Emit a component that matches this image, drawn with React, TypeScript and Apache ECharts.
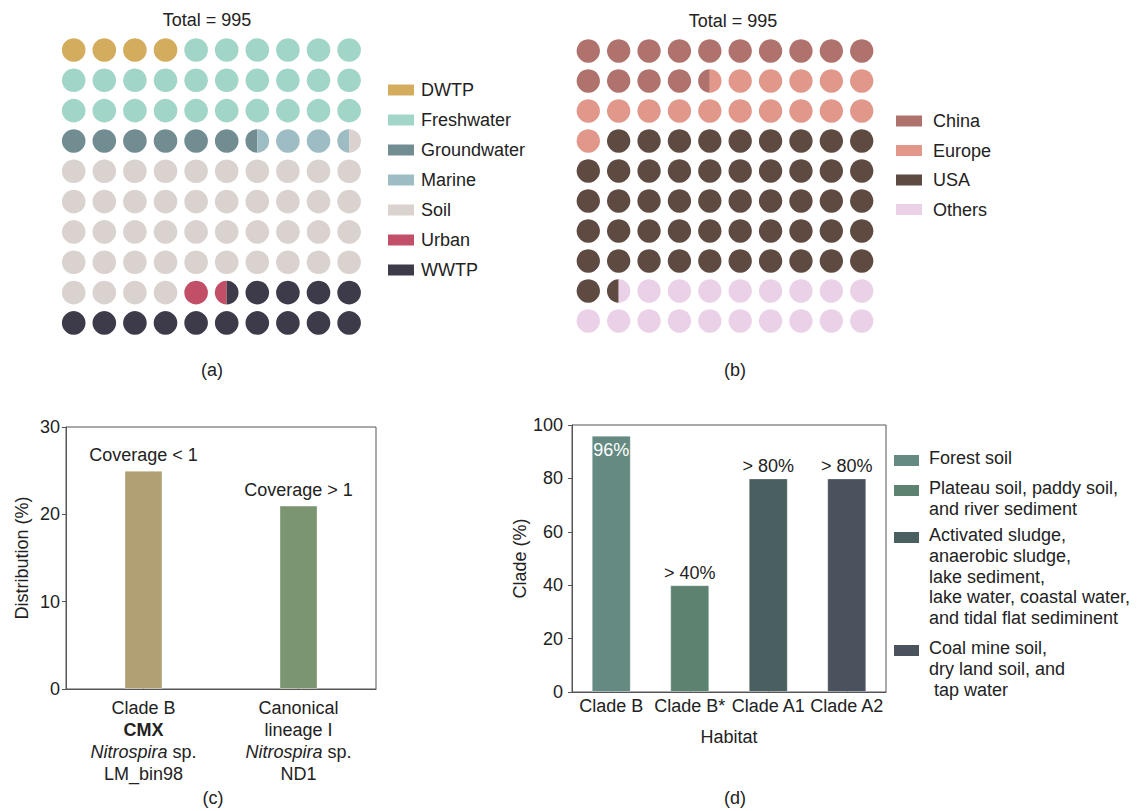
import React, { useEffect, useRef } from "react";
import * as echarts from "echarts";

// ---------- Data ----------
const waffleACategories = ["DWTP", "Freshwater", "Groundwater", "Marine", "Soil", "Urban", "WWTP"];
const waffleAValues = [4, 26, 6.5, 3, 44.5, 1.5, 14.5];
const waffleAColors = ["#D4AC5E", "#A1D5C8", "#728D92", "#9DBCC3", "#DAD2CE", "#C24F68", "#3D3B4A"];
const waffleATotal = "Total = 995";

const waffleBCategories = ["China", "Europe", "USA", "Others"];
const waffleBValues = [14.5, 16.5, 50.5, 18.5];
const waffleBColors = ["#B0726C", "#E1988A", "#5F4A42", "#EBD1E7"];
const waffleBTotal = "Total = 995";

const distCategories = ["Clade B CMX", "Canonical lineage I"];
const distAxisLabels = [
  "{n|Clade B}\n{b|CMX}\n{i|Nitrospira}{n| sp.}\n{n|LM_bin98}",
  "{n|Canonical}\n{n|lineage I}\n{i|Nitrospira}{n| sp.}\n{n|ND1}",
];
const distValues = [25, 21];
const distLabels = ["Coverage < 1", "Coverage > 1"];
const distColors = ["#B0A073", "#7B9570"];
const distTicks = { min: 0, max: 30, interval: 10 };

const cladeCategories = ["Clade B", "Clade B*", "Clade A1", "Clade A2"];
const cladeValues = [96, 40, 80, 80];
const cladeLabels = ["96%", "> 40%", "> 80%", "> 80%"];
const cladeColors = ["#648A82", "#5D8370", "#4A5F5F", "#4A535D"];
const cladeTicks = { min: 0, max: 100, interval: 20 };
const habitatLegend = [
  "Forest soil",
  "Plateau soil, paddy soil,\nand river sediment",
  "Activated sludge,\nanaerobic sludge,\nlake sediment,\nlake water, coastal water,\nand tidal flat sediminent",
  "Coal mine soil,\ndry land soil, and\n tap water",
];

const panelLabels = ["(a)", "(b)", "(c)", "(d)"];

// ---------- Helpers ----------
const FONT = "'Liberation Sans', Arial, Helvetica, sans-serif";
const TXT = "#222";
const AX = "#555";

function buildCells(values: number[]) {
  const cum: number[] = [];
  let s = 0;
  values.forEach((v) => {
    s += v;
    cum.push(s);
  });
  const catAt = (p: number) => {
    for (let k = 0; k < cum.length; k++) if (p < cum[k]) return k;
    return cum.length - 1;
  };
  const cells: number[][] = [];
  for (let i = 0; i < 100; i++) {
    cells.push([i % 10, Math.floor(i / 10), catAt(i + 0.25), catAt(i + 0.75)]);
  }
  return cells;
}

function waffleRender(colors: string[]) {
  return (params: any, api: any) => {
    const c = api.coord([api.value(0), api.value(1)]);
    const size = api.size([1, 1]);
    const r = Math.min(size[0], size[1]) * 0.39;
    const l = api.value(2);
    const rt = api.value(3);
    if (l === rt) {
      return { type: "circle", shape: { cx: c[0], cy: c[1], r }, style: { fill: colors[l] } };
    }
    return {
      type: "group",
      children: [
        {
          type: "sector",
          shape: { cx: c[0], cy: c[1], r0: 0, r, startAngle: Math.PI / 2, endAngle: Math.PI * 1.5, clockwise: true },
          style: { fill: colors[l] },
        },
        {
          type: "sector",
          shape: { cx: c[0], cy: c[1], r0: 0, r, startAngle: -Math.PI / 2, endAngle: Math.PI / 2, clockwise: true },
          style: { fill: colors[rt] },
        },
      ],
    };
  };
}

function txt(text: string, x: number, y: number, extra: any = {}) {
  return {
    type: "text",
    x,
    y,
    style: {
      text,
      fill: TXT,
      fontSize: 18,
      fontFamily: FONT,
      align: "center",
      verticalAlign: "middle",
      ...extra,
    },
  };
}

function simpleLegend(names: string[], colors: string[], sx: number, tx: number, y0: number, step: number) {
  const els: any[] = [];
  names.forEach((n, i) => {
    const cy = y0 + step * i;
    els.push({ type: "rect", shape: { x: sx, y: cy - 5.5, width: 26, height: 11 }, style: { fill: colors[i] } });
    els.push(txt(n, tx, cy, { align: "left" }));
  });
  return els;
}

function habitatLegendEls() {
  const tops = [448, 478, 525, 638];
  const els: any[] = [];
  habitatLegend.forEach((t, i) => {
    els.push({ type: "rect", shape: { x: 894, y: tops[i] + 7, width: 25, height: 11 }, style: { fill: cladeColors[i] } });
    els.push({
      type: "text",
      x: 929,
      y: tops[i],
      style: { text: t, fill: TXT, fontSize: 18, fontFamily: FONT, align: "left", verticalAlign: "top", lineHeight: 20.6 },
    });
  });
  return els;
}

const valueAxisCommon = (extra: any) => ({
  type: "value",
  splitLine: { show: false },
  axisLine: { show: true, lineStyle: { color: AX, width: 1 } },
  axisTick: { show: true, length: 4, lineStyle: { color: AX } },
  axisLabel: { fontSize: 18, color: TXT, fontFamily: FONT },
  nameLocation: "middle",
  nameRotate: 90,
  nameTextStyle: { fontSize: 18, color: TXT, fontFamily: FONT },
  ...extra,
});

const catAxisCommon = (extra: any) => ({
  type: "category",
  axisLine: { show: true, lineStyle: { color: AX, width: 1 } },
  axisTick: { show: true, inside: true, length: 7, alignWithLabel: true, lineStyle: { color: AX } },
  ...extra,
});

const richStyle = { fontSize: 18, lineHeight: 22, color: TXT, fontFamily: FONT };

const option: any = {
  animation: false,
  backgroundColor: "#fff",
  textStyle: { fontFamily: FONT },
  grid: [
    { left: 58.4, top: 34.8, width: 306, height: 303.3, outerBoundsMode: "none" },
    { left: 573.1, top: 36, width: 303.8, height: 300, outerBoundsMode: "none" },
    { left: 66, top: 427, width: 310, height: 262, show: true, borderColor: AX, borderWidth: 1, outerBoundsMode: "none" },
    { left: 572, top: 425, width: 314, height: 267, show: true, borderColor: AX, borderWidth: 1, outerBoundsMode: "none" },
  ],
  xAxis: [
    { gridIndex: 0, type: "value", min: -0.5, max: 9.5, show: false },
    { gridIndex: 1, type: "value", min: -0.5, max: 9.5, show: false },
    catAxisCommon({
      gridIndex: 2,
      data: distCategories,
      axisLabel: {
        interval: 0,
        margin: 8,
        formatter: (_v: string, i: number) => distAxisLabels[i],
        rich: {
          n: richStyle,
          b: { ...richStyle, fontWeight: "bold" },
          i: { ...richStyle, fontStyle: "italic" },
        },
      },
    }),
    catAxisCommon({
      gridIndex: 3,
      data: cladeCategories,
      name: "Habitat",
      nameLocation: "middle",
      nameGap: 36,
      nameTextStyle: { fontSize: 18, color: TXT, fontFamily: FONT },
      axisLabel: { interval: 0, margin: 5, fontSize: 18, color: TXT, fontFamily: FONT },
    }),
  ],
  yAxis: [
    { gridIndex: 0, type: "value", min: -0.5, max: 9.5, inverse: true, show: false },
    { gridIndex: 1, type: "value", min: -0.5, max: 9.5, inverse: true, show: false },
    valueAxisCommon({
      gridIndex: 2,
      ...distTicks,
      name: "Distribution (%)",
      nameGap: 35,
      axisLabel: { fontSize: 18, color: TXT, fontFamily: FONT, margin: 6 },
    }),
    valueAxisCommon({
      gridIndex: 3,
      ...cladeTicks,
      name: "Clade (%)",
      nameGap: 38,
      axisLabel: { fontSize: 18, color: TXT, fontFamily: FONT, margin: 9 },
    }),
  ],
  series: [
    {
      type: "custom",
      xAxisIndex: 0,
      yAxisIndex: 0,
      clip: false,
      renderItem: waffleRender(waffleAColors),
      data: buildCells(waffleAValues),
    },
    {
      type: "custom",
      xAxisIndex: 1,
      yAxisIndex: 1,
      clip: false,
      renderItem: waffleRender(waffleBColors),
      data: buildCells(waffleBValues),
    },
    {
      type: "bar",
      xAxisIndex: 2,
      yAxisIndex: 2,
      barWidth: 38,
      data: distValues.map((v, i) => ({
        value: v,
        itemStyle: { color: distColors[i], borderColor: "rgba(255,255,255,0.35)", borderWidth: 1 },
      })),
      label: {
        show: true,
        position: "top",
        distance: 7,
        fontSize: 18,
        color: TXT,
        fontFamily: FONT,
        formatter: (p: any) => distLabels[p.dataIndex],
      },
    },
    {
      type: "bar",
      xAxisIndex: 3,
      yAxisIndex: 3,
      barWidth: 39,
      data: cladeValues.map((v, i) => ({
        value: v,
        itemStyle: { color: cladeColors[i], borderColor: "rgba(255,255,255,0.3)", borderWidth: 1 },
        label:
          i === 0
            ? { position: "insideTop", color: "#fff", distance: 5 }
            : { position: "top", color: TXT, distance: 3 },
      })),
      label: {
        show: true,
        fontSize: 18,
        fontFamily: FONT,
        formatter: (p: any) => cladeLabels[p.dataIndex],
      },
    },
  ],
  graphic: [
    txt(waffleATotal, 207, 20),
    txt(waffleBTotal, 733, 21),
    txt(panelLabels[0], 212, 370),
    txt(panelLabels[1], 735, 370),
    txt(panelLabels[2], 213, 798),
    txt(panelLabels[3], 735, 798),
    ...simpleLegend(waffleACategories, waffleAColors, 388, 421, 90, 30),
    ...simpleLegend(waffleBCategories, waffleBColors, 896, 933, 121, 29.5),
    ...habitatLegendEls(),
  ],
};

export default function App() {
  const ref = useRef<HTMLDivElement>(null);
  useEffect(() => {
    if (!ref.current) return;
    const chart = echarts.init(ref.current, null, { renderer: "svg" });
    chart.setOption(option);
    return () => chart.dispose();
  }, []);
  return (
    <div
      ref={ref}
      style={{ position: "absolute", left: 0, top: 0, width: 1137, height: 811, background: "#fff" }}
    />
  );
}
